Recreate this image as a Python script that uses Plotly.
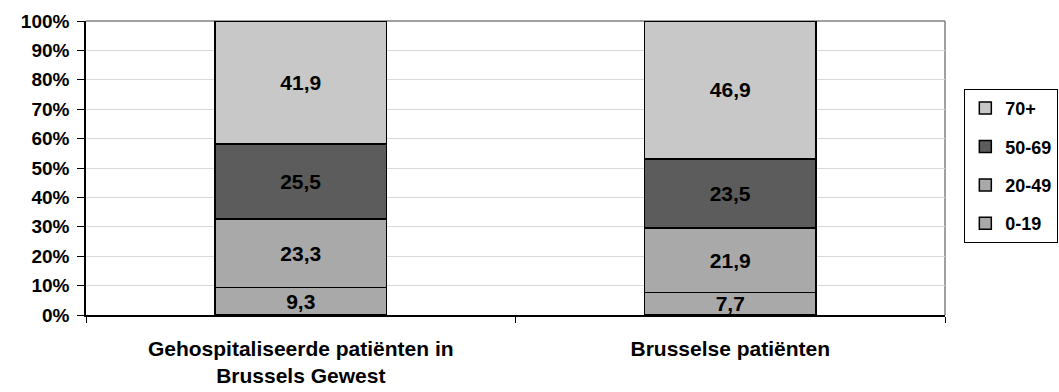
import plotly.graph_objects as go

categories = ["Gehospitaliseerde patiënten in<br>Brussels Gewest", "Brusselse patiënten"]
age_groups = ["0-19", "20-49", "50-69", "70+"]
shares = {
    "0-19": [9.3, 7.7],
    "20-49": [23.3, 21.9],
    "50-69": [25.5, 23.5],
    "70+": [41.9, 46.9],
}
colors = {"0-19": "#a9a9a9", "20-49": "#a9a9a9", "50-69": "#5c5c5c", "70+": "#c8c8c8"}
y_ticks = list(range(0, 101, 10))
y_tick_labels = [f"{v}%" for v in y_ticks]

FONT = "Liberation Sans"

fig = go.Figure()
n = len(age_groups)
for i, grp in enumerate(age_groups):
    vals = shares[grp]
    fig.add_trace(go.Bar(
        name=grp,
        x=categories,
        y=vals,
        legendgroup=grp,
        legendrank=n - i,  # oldest group listed first in the legend
        marker=dict(color=colors[grp], line=dict(color="black", width=1.5)),
        text=[f"{v:.1f}".replace(".", ",") for v in vals],
        textposition="inside",
        insidetextanchor="middle",
        textangle=0,
        constraintext="none",
        textfont=dict(family=FONT, size=21, color="black", weight="bold"),
    ))

fig.update_layout(
    width=1059,
    height=392,
    barmode="stack",
    bargap=0.6,
    plot_bgcolor="white",
    paper_bgcolor="white",
    margin=dict(l=86, r=114, t=21, b=77, autoexpand=False),
    font=dict(family=FONT, color="black", weight="bold"),
    legend=dict(
        traceorder="grouped",
        x=1.0225, xanchor="left",
        y=0.769, yanchor="top",
        bordercolor="black", borderwidth=1,
        font=dict(family=FONT, size=18, color="black", weight="bold"),
        tracegroupgap=12,
        itemwidth=30,
    ),
    xaxis=dict(
        type="category",
        showline=True, linecolor="black", linewidth=1.5,
        ticks="outside", tickson="boundaries", ticklen=6, tickcolor="black",
        tickfont=dict(family=FONT, size=21, color="black", weight="bold"),
        ticklabelstandoff=14,
        showgrid=False,
    ),
    yaxis=dict(
        range=[0, 100],
        tickmode="array",
        tickvals=y_ticks,
        ticktext=y_tick_labels,
        showline=True, linecolor="black", linewidth=1.5,
        ticks="outside", ticklen=7, tickcolor="black",
        tickfont=dict(family=FONT, size=19, color="black", weight="bold"),
        ticklabelstandoff=4,
        showgrid=True, gridcolor="#d9d9d9", gridwidth=1,
        zeroline=False,
    ),
)

# gray frame on the top and right of the plot area
fig.add_shape(type="line", xref="paper", yref="paper", x0=0, x1=1, y0=1, y1=1,
              line=dict(color="#808080", width=1.5), layer="below")
fig.add_shape(type="line", xref="paper", yref="paper", x0=1, x1=1, y0=0, y1=1,
              line=dict(color="#808080", width=1.5), layer="below")

fig.write_html("out.html")
